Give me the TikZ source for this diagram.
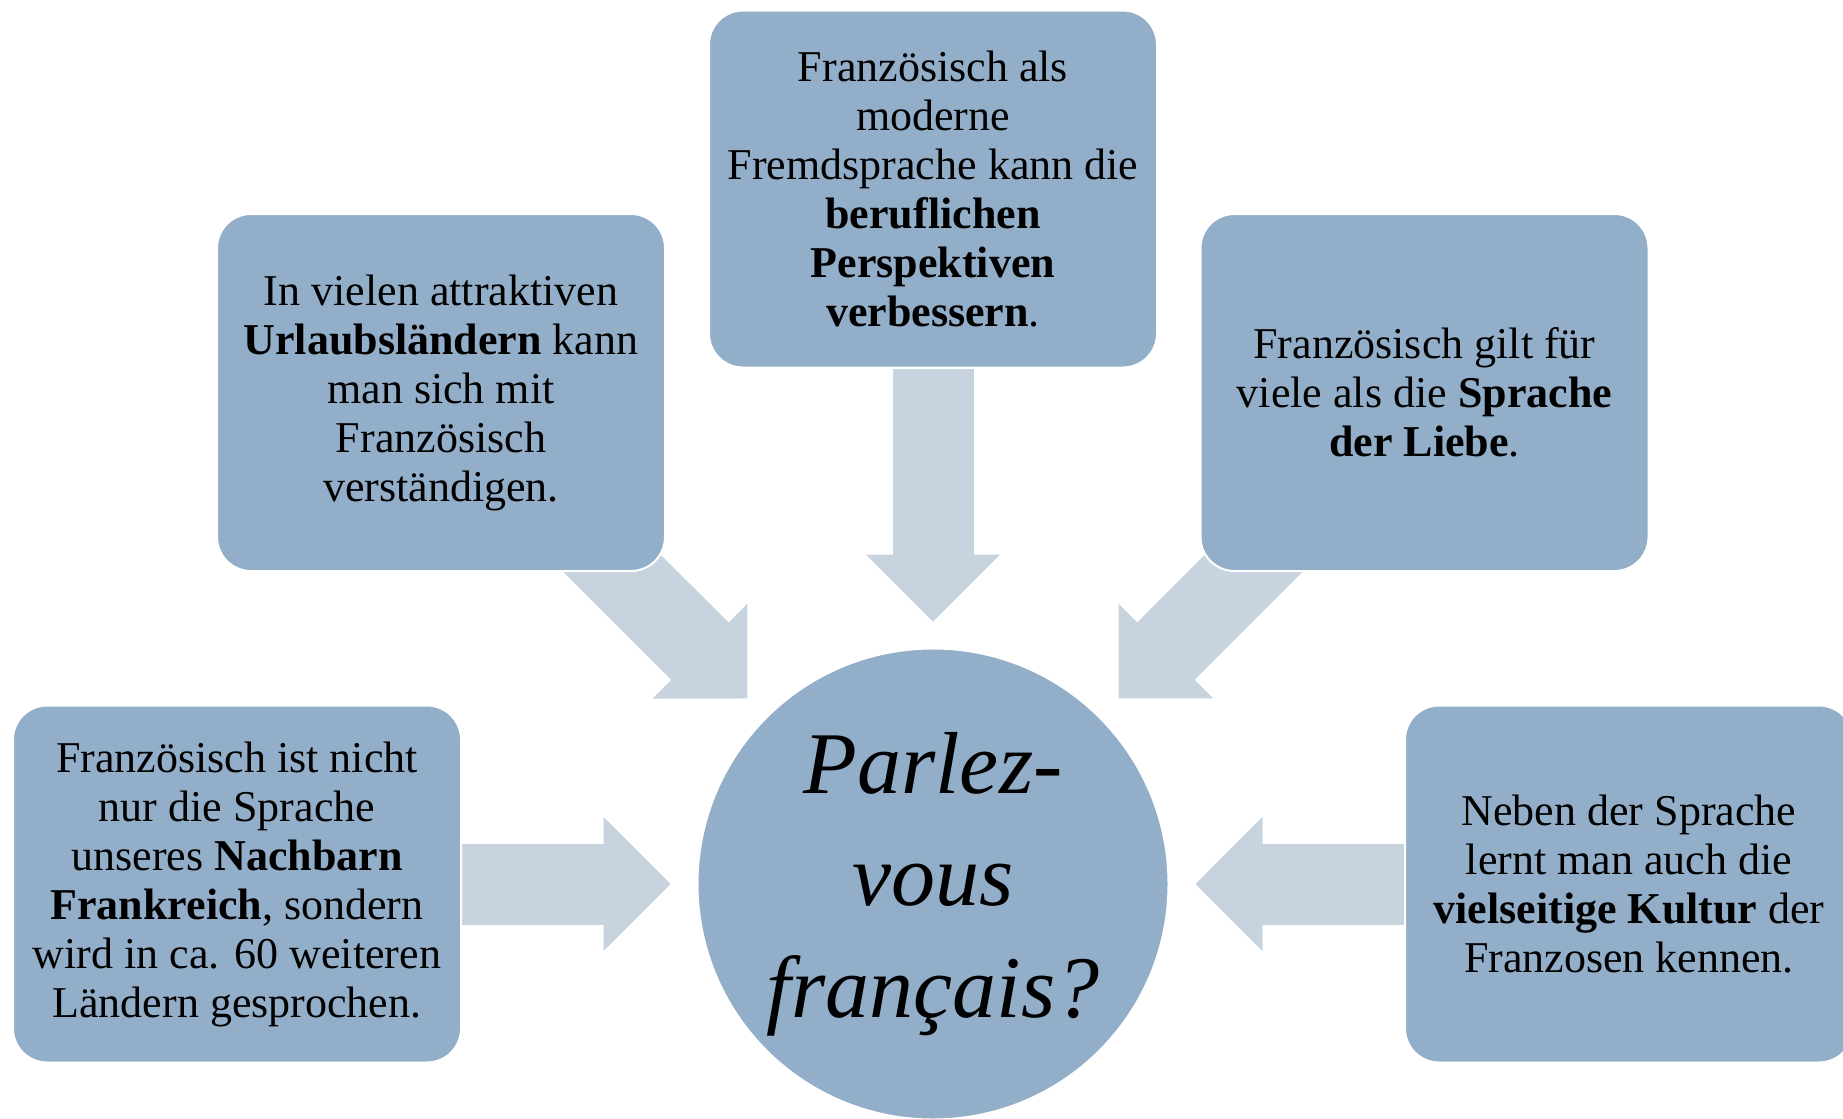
\documentclass[tikz,border=0pt]{standalone}
\usepackage{fontspec}
\setmainfont{Liberation Serif}
\usetikzlibrary{arrows.meta,backgrounds}
\definecolor{boxblue}{RGB}{146,174,200}
\definecolor{arrowblue}{RGB}{199,212,224}
\begin{document}
\begin{tikzpicture}[x=0.5pt, y=-0.5pt,
        box/.style = {rectangle, rounded corners=17pt, fill=boxblue, draw=white,
                      line width=1pt, minimum width=224pt, minimum height=178.5pt,
                      inner sep=0pt, align=center,
                      font=\fontsize{22}{24.5}\selectfont},
       flow/.style = {arrowblue, line width=40.5pt, shorten >=13pt,
                      -{Triangle[width=67pt, length=33.5pt, line width=0.6pt]}}
                            ]
    \useasboundingbox (0,0) rectangle (1843,1119);
    % centre
    \node[circle, fill=boxblue, draw=white, line width=1pt, minimum size=235.5pt,
          inner sep=0pt, align=center, font=\fontsize{44}{56}\selectfont\itshape]
          (circ) at (933,884) {Parlez-\\vous\\français?};
    % boxes
    \node[box] (top) at (933,189)
        {Französisch als\\moderne\\Fremdsprache kann die\\
         \textbf{beruflichen}\\\textbf{Perspektiven}\\\textbf{verbessern}.};
    \node[box] (ul) at (441,392.5)
        {In vielen attraktiven\\\textbf{Urlaubsländern} kann\\man sich mit\\
         Französisch\\verständigen.};
    \node[box] (ur) at (1424.5,392.5)
        {Französisch gilt für\\viele als die \textbf{Sprache}\\\textbf{der Liebe}.};
    \node[box] (ll) at (237,884)
        {Französisch ist nicht\\nur die Sprache\\unseres \textbf{Nachbarn}\\
         \textbf{Frankreich}, sondern\\wird in ca. 60 weiteren\\Ländern gesprochen.};
    \node[box] (lr) at (1629,884)
        {Neben der Sprache\\lernt man auch die\\\textbf{vielseitige Kultur} der\\
         Franzosen kennen.};
    % arrows
    \begin{scope}[on background layer]
        \draw[flow] (top) -- (circ);
        \draw[flow] (ul.center) -- (circ);
        \draw[flow] (ur.center) -- (circ);
        \draw[flow] (ll) -- (circ);
        \draw[flow] (lr) -- (circ);
    \end{scope}
\end{tikzpicture}
\end{document}
